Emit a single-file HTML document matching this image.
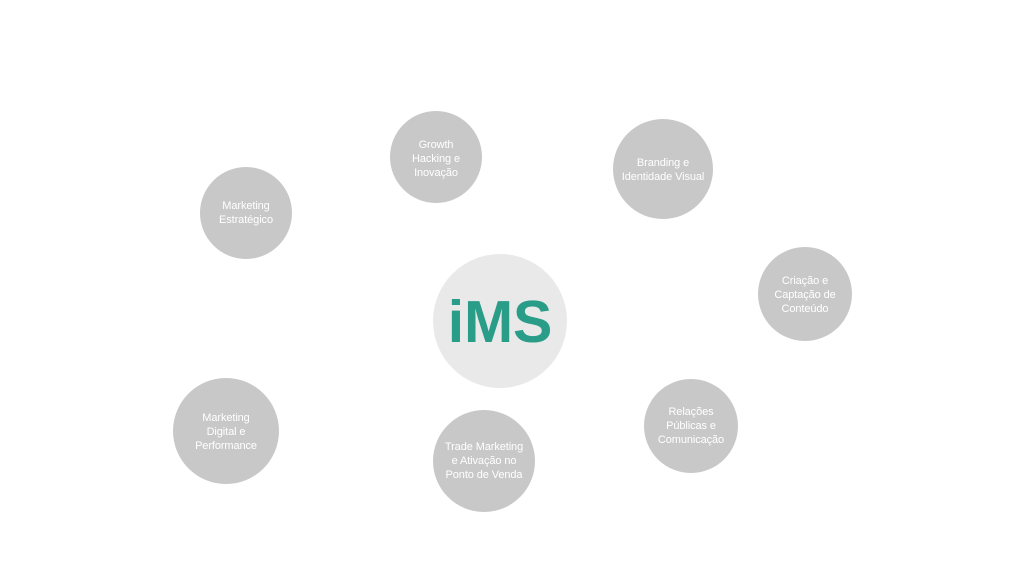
<!DOCTYPE html>
<html><head><meta charset="utf-8"><style>
body{margin:0;width:1024px;height:576px;background:#fff;position:relative;overflow:hidden;font-family:"Liberation Sans",Arial,sans-serif}
.c{position:absolute;border-radius:50%;background:#c8c8c8;display:flex;align-items:center;justify-content:center;text-align:center;color:#fff;font-size:11px;line-height:14px;letter-spacing:-0.1px}
</style></head><body>
<div class="c" style="left:433px;top:254px;width:134px;height:134px;background:#e9e9e9;color:#2a9d88;font-weight:bold;font-size:59px;line-height:59px;padding-top:2px;box-sizing:border-box">iMS</div>
<div class="c" style="left:390px;top:111px;width:92px;height:92px;padding-top:3px;box-sizing:border-box">Growth<br>Hacking e<br>Inovação</div>
<div class="c" style="left:613px;top:119px;width:100px;height:100px;padding-top:2px;box-sizing:border-box">Branding e<br>Identidade Visual</div>
<div class="c" style="left:200px;top:167px;width:92px;height:92px">Marketing<br>Estratégico</div>
<div class="c" style="left:758px;top:247px;width:94px;height:94px;padding-top:2px;box-sizing:border-box">Criação e<br>Captação de<br>Conteúdo</div>
<div class="c" style="left:644px;top:379px;width:94px;height:94px">Relações<br>Públicas e<br>Comunicação</div>
<div class="c" style="left:433px;top:410px;width:102px;height:102px">Trade Marketing<br>e Ativação no<br>Ponto de Venda</div>
<div class="c" style="left:173px;top:378px;width:106px;height:106px;padding-top:2px;box-sizing:border-box">Marketing<br>Digital e<br>Performance</div>
</body></html>
